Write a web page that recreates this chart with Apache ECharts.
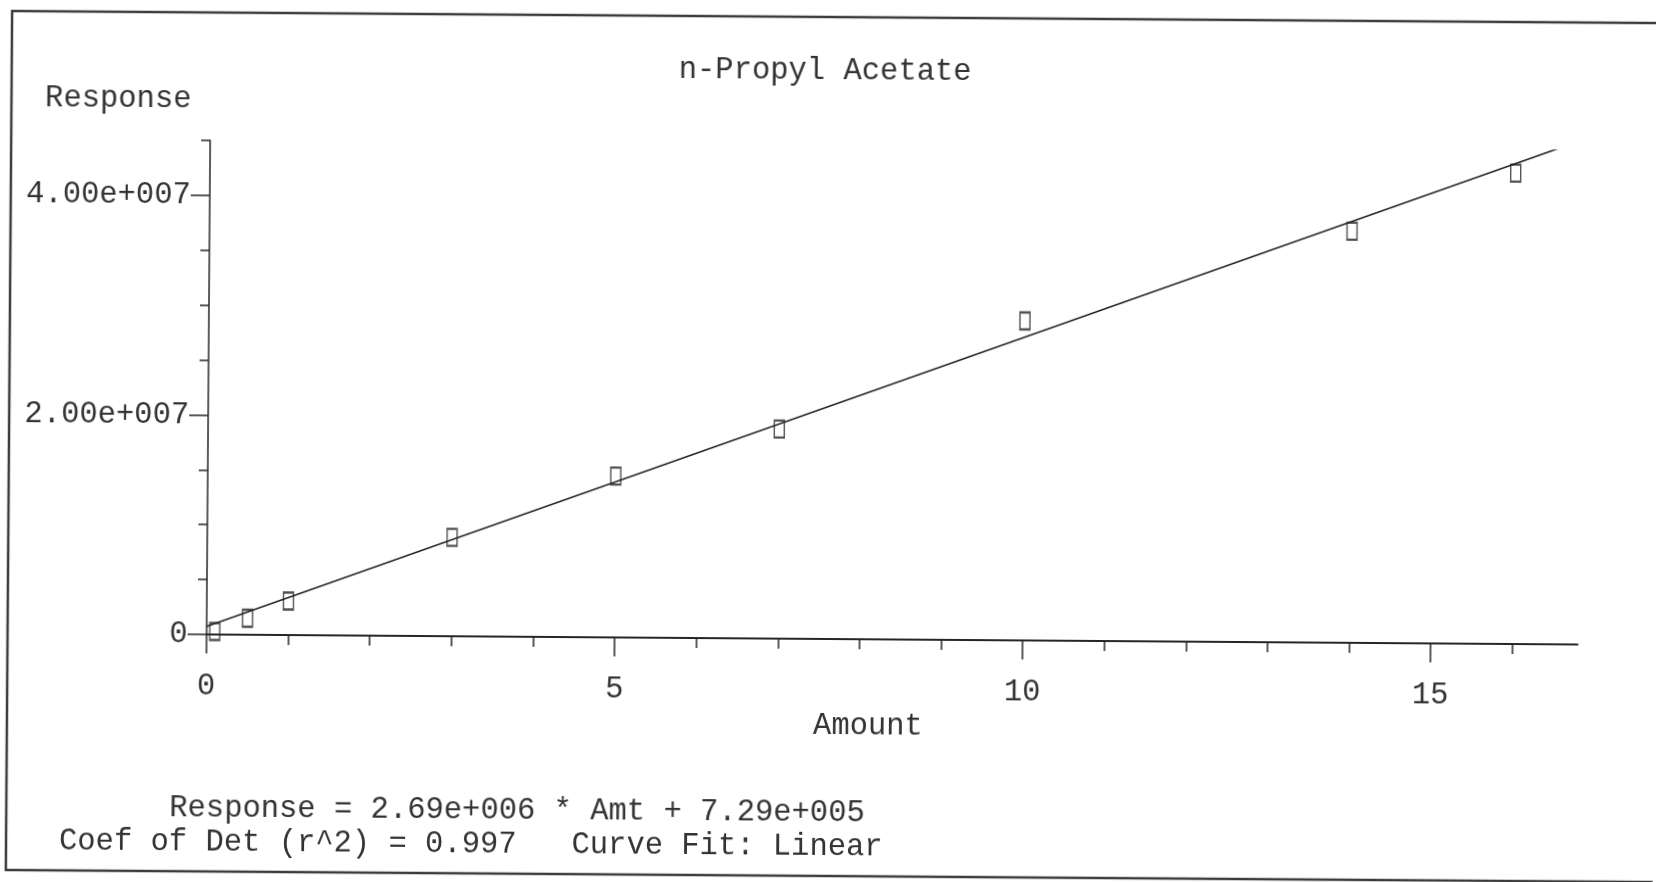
<!DOCTYPE html>
<html>
<head>
<meta charset="utf-8">
<title>n-Propyl Acetate</title>
<script src="https://cdn.jsdelivr.net/npm/echarts@6.0.0/dist/echarts.min.js"></script>
<style>
  html, body { margin: 0; padding: 0; background: #ffffff; overflow: hidden; }
  #chart {
    width: 1656px; height: 882px;
    transform: rotate(0.42deg);
    transform-origin: 828px 441px;
  }
</style>
</head>
<body>
<div id="chart"></div>
<script>
// Calibration standards: amount vs detector response
const amount   = [0.1, 0.5, 1, 3, 5, 7, 10, 14, 16];
const response = [2.7e5, 1.5e6, 3.1e6, 9.0e6, 1.47e7, 1.91e7, 2.91e7, 3.75e7, 4.29e7];

// Linear fit reported for the calibration
const fitSlope = 2.69e6;
const fitIntercept = 7.29e5;
const fitR2 = 0.997;
const fitType = 'Linear';
const fitRange = [0, 16.6];

// Axis ticks
const xMajorTicks = [0, 5, 10, 15];
const xMinorTicks = [1, 2, 3, 4, 6, 7, 8, 9, 11, 12, 13, 14, 16];
const yMajorTicks = [0, 2e7, 4e7];
const yMinorTicks = [0.5e7, 1e7, 1.5e7, 2.5e7, 3e7, 3.5e7, 4.5e7];

const titleText = 'n-Propyl Acetate';
const xName = 'Amount';
const yName = 'Response';

const FONT = '"Liberation Mono", "DejaVu Sans Mono", monospace';
const FS = 30.5;
const INK = '#333333';
const LINE = '#262626';

function fmtExp(v) {
  if (v === 0) return '0';
  const e = Math.floor(Math.log10(Math.abs(v)));
  const m = v / Math.pow(10, e);
  return m.toFixed(2) + 'e' + (e < 0 ? '-' : '+') + String(Math.abs(e)).padStart(3, '0');
}

const points = amount.map((a, i) => [a, response[i]]);
const fitLine = fitRange.map(x => [x, fitSlope * x + fitIntercept]);

const eqLine1 = yName + ' = ' + fmtExp(fitSlope) + ' * Amt + ' + fmtExp(fitIntercept);
const eqLine2 = 'Coef of Det (r^2) = ' + fitR2.toFixed(3) + '   Curve Fit: ' + fitType;

const chart = echarts.init(document.getElementById('chart'), null, { renderer: 'canvas' });

const xMin = 0, xMax = 16.8;
const yMin = 0, yMax = 4.5e7;

chart.setOption({
  animation: false,
  backgroundColor: '#ffffff',
  title: {
    text: titleText,
    left: 676,
    top: 55,
    padding: 0,
    textStyle: { fontFamily: FONT, fontSize: FS, fontWeight: 'normal', color: INK }
  },
  grid: {
    left: 208, right: 77, top: 145, bottom: 243,
    containLabel: false,
    outerBoundsMode: 'none'
  },
  xAxis: [
    {
      type: 'value', min: xMin, max: xMax, position: 'bottom',
      name: xName, nameLocation: 'middle', nameGap: 69,
      nameTextStyle: { fontFamily: FONT, fontSize: FS, color: INK, padding: [0, 47, 0, 0] },
      axisLine: { show: true, onZero: false, lineStyle: { color: LINE, width: 2 } },
      axisTick: { show: true, inside: false, length: 19, customValues: xMajorTicks,
                  lineStyle: { color: LINE, width: 1.5 } },
      axisLabel: { show: true, margin: 36, customValues: xMajorTicks,
                   fontFamily: FONT, fontSize: FS, color: INK },
      splitLine: { show: false }
    },
    {
      type: 'value', min: xMin, max: xMax, position: 'bottom',
      axisLine: { show: false, onZero: false },
      axisTick: { show: true, inside: false, length: 10, customValues: xMinorTicks,
                  lineStyle: { color: LINE, width: 1.5 } },
      axisLabel: { show: false },
      splitLine: { show: false }
    }
  ],
  yAxis: [
    {
      type: 'value', min: yMin, max: yMax, position: 'left',
      name: yName, nameLocation: 'end', nameGap: 41,
      nameTextStyle: { fontFamily: FONT, fontSize: FS, color: INK,
                       align: 'right', verticalAlign: 'middle', padding: [0, 19, 0, 0] },
      axisLine: { show: true, onZero: false, lineStyle: { color: LINE, width: 1.5 } },
      axisTick: { show: true, inside: false, length: 19, customValues: yMajorTicks,
                  lineStyle: { color: LINE, width: 1.5 } },
      axisLabel: { show: true, margin: 19, customValues: yMajorTicks, formatter: fmtExp,
                   fontFamily: FONT, fontSize: FS, color: INK },
      splitLine: { show: false }
    },
    {
      type: 'value', min: yMin, max: yMax, position: 'left',
      axisLine: { show: false, onZero: false },
      axisTick: { show: true, inside: false, length: 9, customValues: yMinorTicks,
                  lineStyle: { color: LINE, width: 1.5 } },
      axisLabel: { show: false },
      splitLine: { show: false }
    }
  ],
  graphic: [
    {
      type: 'rect', z: -1, silent: true,
      shape: { x: 9, y: 17, width: 1700, height: 859 },
      style: { fill: 'none', stroke: '#3c3c3c', lineWidth: 2.5 }
    },
    {
      type: 'text', left: 172, top: 797,
      style: { text: eqLine1, font: FS + 'px ' + FONT, fill: INK }
    },
    {
      type: 'text', left: 62, top: 831,
      style: { text: eqLine2, font: FS + 'px ' + FONT, fill: INK }
    }
  ],
  series: [
    {
      name: 'Fit',
      type: 'line',
      xAxisIndex: 0, yAxisIndex: 0,
      data: fitLine,
      showSymbol: false,
      symbol: 'none',
      lineStyle: { color: LINE, width: 1.6 },
      z: 2
    },
    {
      name: 'Standards',
      type: 'scatter',
      xAxisIndex: 0, yAxisIndex: 0,
      data: points,
      symbol: 'rect',
      symbolSize: [10, 17],
      itemStyle: { color: 'rgba(0,0,0,0)', borderColor: LINE, borderWidth: 1.8 },
      z: 3
    }
  ]
});
</script>
</body>
</html>
